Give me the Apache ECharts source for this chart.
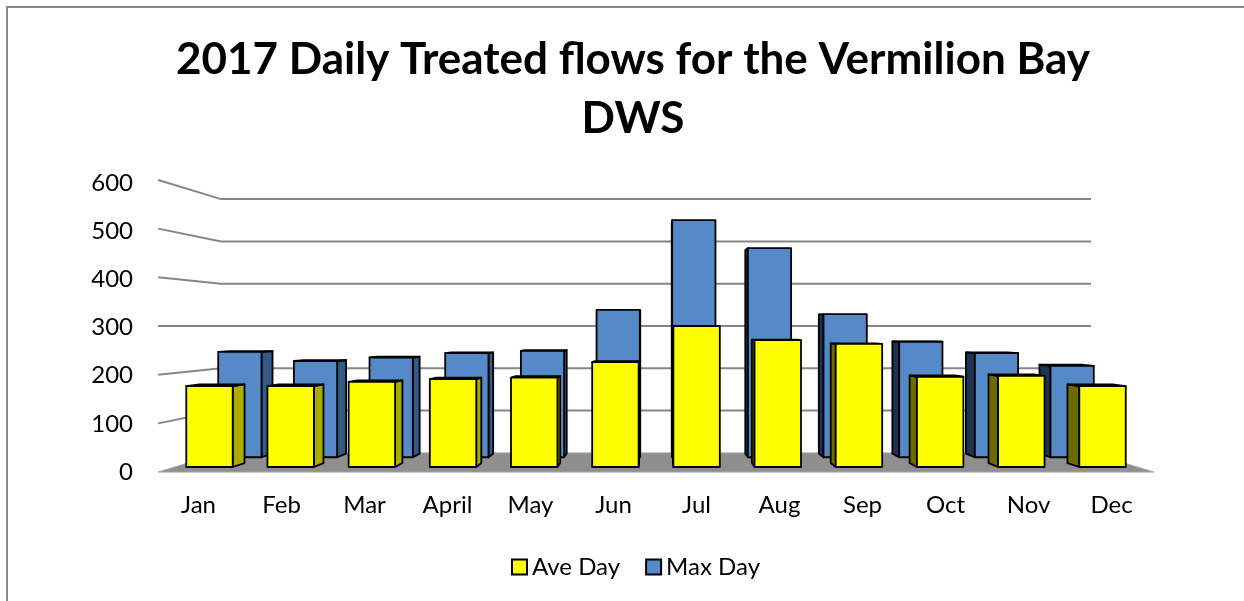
<!DOCTYPE html>
<html>
<head>
<meta charset="utf-8">
<script src="https://cdn.jsdelivr.net/npm/echarts@6/dist/echarts.min.js"></script>
<style>
  html, body { margin: 0; padding: 0; background: #fff; }
  #chart { width: 1244px; height: 601px; }
</style>
</head>
<body>
<div id="chart"></div>
<script>
// --- Data ---
const categories = ['Jan', 'Feb', 'Mar', 'April', 'May', 'Jun', 'Jul', 'Aug', 'Sep', 'Oct', 'Nov', 'Dec'];
const aveDay = [172, 172, 181, 187, 190, 223, 300, 270, 262, 192, 194, 172];
const maxDay = [241, 220, 228, 238, 243, 337, 542, 478, 327, 264, 238, 209];
const yTicks = [0, 100, 200, 300, 400, 500, 600];

// --- 3D look: depth planes scaled around a vanishing point at the eye height ---
const EYE_VALUE = 300;
const BAR_HALF = 0.286;     // half bar width, share of a category
const BAR_DEPTH = 0.972;    // back face of a bar vs its front face
const DEPTH = {
    frontPlane: [1.022, 1.036],
    frontRow: [1, 1],
    backRow: [0.932, 0.931],
    backWall: [0.893, 0.9]
};
const FONT = 'Lato, "Open Sans", sans-serif';

function vanish(api) {
    const a = api.coord([0, 0]);
    const b = api.coord([categories.length - 1, EYE_VALUE]);
    return [(a[0] + b[0]) / 2, b[1]];
}

function project(V, p, f, s) {
    return [V[0] + (p[0] - V[0]) * f[0] * s, V[1] + (p[1] - V[1]) * f[1] * s];
}

function barRenderer(row, colors) {
    return function (params, api) {
        const idx = api.value(0);
        const base = api.coord([idx, 0]);
        const top = api.coord([idx, api.value(1)]);
        const half = api.size([1, 0])[0] * BAR_HALF;
        const V = vanish(api);
        const f = DEPTH[row];
        const xl = base[0] - half, xr = base[0] + half;
        const front = [[xl, base[1]], [xr, base[1]], [xr, top[1]], [xl, top[1]]];
        const A = front.map(p => project(V, p, f, 1));
        const B = front.map(p => project(V, p, f, BAR_DEPTH));
        const line = { stroke: '#000', lineWidth: 1.8, lineJoin: 'round' };
        const children = [];
        if (A[1][0] < V[0]) {
            children.push({ type: 'polygon', shape: { points: [A[1], A[2], B[2], B[1]] },
                style: Object.assign({ fill: colors.right }, line) });
        }
        if (A[0][0] > V[0]) {
            children.push({ type: 'polygon', shape: { points: [A[0], A[3], B[3], B[0]] },
                style: Object.assign({ fill: colors.left }, line) });
        }
        if (A[3][1] > V[1]) {
            children.push({ type: 'polygon', shape: { points: [A[3], A[2], B[2], B[3]] },
                style: Object.assign({ fill: colors.top }, line) });
        }
        children.push({ type: 'polygon', shape: { points: A },
            style: Object.assign({ fill: colors.front }, line) });
        return { type: 'group', children: children };
    };
}

function wallRenderer(params, api) {
    const v = api.value(1);
    const V = vanish(api);
    const halfCat = api.size([1, 0])[0] / 2;
    const l = api.coord([0, v]);
    const r = api.coord([categories.length - 1, v]);
    const left = [l[0] - halfCat, l[1]];
    const right = [r[0] + halfCat, r[1]];
    const fl = project(V, left, DEPTH.frontPlane, 1);
    const fr = project(V, right, DEPTH.frontPlane, 1);
    const bl = project(V, left, DEPTH.backWall, 1);
    const br = project(V, right, DEPTH.backWall, 1);
    if (v === 0) {
        return { type: 'polygon', shape: { points: [fl, fr, br, bl] },
            style: { fill: '#8f8f8f', stroke: '#a6a6a6', lineWidth: 1 } };
    }
    return { type: 'polyline', shape: { points: [fl, bl, br] },
        style: { fill: null, stroke: '#868686', lineWidth: 2 } };
}

const chart = echarts.init(document.getElementById('chart'));

chart.setOption({
    animation: false,
    backgroundColor: '#fff',
    title: {
        text: '2017 Daily Treated flows for the Vermilion Bay\nDWS',
        left: 628,
        top: 25,
        textAlign: 'center',
        textStyle: { fontFamily: FONT, fontWeight: 'bold', fontSize: 44, lineHeight: 59, color: '#000' }
    },
    legend: {
        data: ['Ave Day', 'Max Day'],
        left: 506,
        top: 550,
        icon: 'rect',
        itemWidth: 15,
        itemHeight: 15,
        itemGap: 25,
        itemStyle: { borderColor: '#000', borderWidth: 2 },
        textStyle: { fontFamily: FONT, fontSize: 24, color: '#000' }
    },
    graphic: [{
        type: 'rect',
        shape: { x: 7, y: 7, width: 1400, height: 800 },
        style: { fill: null, stroke: '#888', lineWidth: 2 },
        silent: true
    }],
    grid: [
        { left: 168.9, right: 100.9, top: 185, bottom: 134 },
        { left: 157, right: 91, top: 183, bottom: 129 }
    ],
    xAxis: [
        { type: 'category', data: categories, gridIndex: 0, show: false },
        {
            type: 'category', data: categories, gridIndex: 1,
            axisLine: { show: false }, axisTick: { show: false },
            axisLabel: { fontFamily: FONT, fontSize: 24, color: '#000', margin: 21 }
        }
    ],
    yAxis: [
        { type: 'value', min: 0, max: 600, interval: 100, gridIndex: 0, show: false },
        {
            type: 'value', min: 0, max: 600, interval: 100, gridIndex: 1,
            axisLine: { show: false }, axisTick: { show: false }, splitLine: { show: false },
            axisLabel: { fontFamily: FONT, fontSize: 24, color: '#000', margin: 24 }
        }
    ],
    series: [
        {
            type: 'custom', name: 'walls', xAxisIndex: 0, yAxisIndex: 0, z: 1,
            silent: true,
            data: yTicks.map(v => [0, v]),
            renderItem: wallRenderer
        },
        {
            type: 'custom', name: 'Max Day', xAxisIndex: 0, yAxisIndex: 0, z: 2,
            itemStyle: { color: '#5589c7' },
            data: maxDay.map((v, i) => [i, v]),
            renderItem: barRenderer('backRow', { front: '#5589c7', right: '#345a88', left: '#1f3452', top: '#7fa6d6' })
        },
        {
            type: 'custom', name: 'Ave Day', xAxisIndex: 0, yAxisIndex: 0, z: 3,
            itemStyle: { color: '#ffff00' },
            data: aveDay.map((v, i) => [i, v]),
            renderItem: barRenderer('frontRow', { front: '#ffff00', right: '#abab00', left: '#6b6b00', top: '#d9d900' })
        }
    ]
});
</script>
</body>
</html>
